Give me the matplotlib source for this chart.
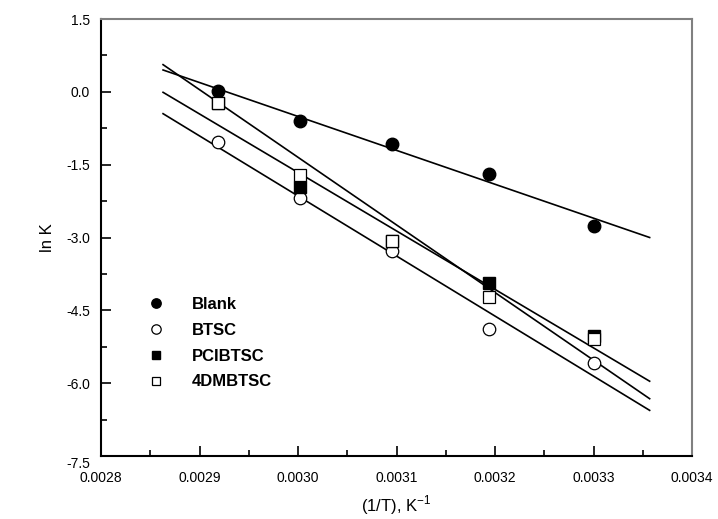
import matplotlib
matplotlib.use("Agg")
import matplotlib.pyplot as plt
import matplotlib.transforms as mtransforms
import numpy as np
from matplotlib.ticker import MultipleLocator, FormatStrFormatter

plt.rcParams['font.family'] = ['Liberation Sans', 'DejaVu Sans']

# Data (1/T in K^-1, ln K)
inv_T = [0.002919, 0.003002, 0.003095, 0.003194, 0.003300]
blank = [0.02, -0.60, -1.07, -1.69, -2.76]
btsc = [-1.04, -2.19, -3.27, -4.88, -5.58]
pcibtsc = [-0.23, -1.95, -3.08, -3.94, -5.03]
dmbtsc4 = [-0.23, -1.71, -3.08, -4.23, -5.10]

# Linear-fit lines: value of ln K at the start / end of the fitted span
fit_x = [0.002863, 0.003357]
fit_blank = [0.45, -3.00]
fit_btsc = [-0.45, -6.56]
fit_pcibtsc = [-0.01, -5.96]
fit_dmbtsc4 = [0.56, -6.32]

fig = plt.figure(figsize=(7.18, 5.19), dpi=100)
ax = fig.add_axes([101/718, 1-456/519, (692-101)/718, (456-19)/519])

series = [
    ("Blank", blank, fit_blank, dict(marker='o', mfc='black', mec='black', ms=9)),
    ("BTSC", btsc, fit_btsc, dict(marker='o', mfc='white', mec='black', ms=9, mew=0.9)),
    ("PCIBTSC", pcibtsc, fit_pcibtsc, dict(marker='s', mfc='black', mec='black', ms=8)),
    ("4DMBTSC", dmbtsc4, fit_dmbtsc4, dict(marker='s', mfc='white', mec='black', ms=8, mew=0.9)),
]

handles = []
for name, ys, fit, style in series:
    ax.plot(fit_x, fit, color='black', lw=1.2, zorder=2)
    h, = ax.plot(inv_T, ys, ls='none', zorder=3, label=name, **style)
    handles.append(h)

ax.set_xlim(0.0028, 0.0034)
ax.set_ylim(-7.5, 1.5)
ax.xaxis.set_major_locator(MultipleLocator(0.0001))
ax.xaxis.set_minor_locator(MultipleLocator(0.00005))
ax.yaxis.set_major_locator(MultipleLocator(1.5))
ax.yaxis.set_minor_locator(MultipleLocator(0.75))
ax.xaxis.set_major_formatter(FormatStrFormatter('%.4f'))
ax.yaxis.set_major_formatter(FormatStrFormatter('%.1f'))

ax.tick_params(which='both', direction='in', top=False, right=False, labelsize=10, width=1.2)
ax.tick_params(which='major', length=7)
ax.tick_params(which='minor', length=4)
ax.tick_params(axis='x', pad=11)
ax.tick_params(axis='y', pad=8)

for s in ['left', 'bottom']:
    ax.spines[s].set_linewidth(1.5)
    ax.spines[s].set_color('black')
for s in ['top', 'right']:
    ax.spines[s].set_linewidth(1.5)
    ax.spines[s].set_color('#808080')

ax.set_xlabel(r'(1/T), K$^{\mathregular{-1}}$', fontsize=12, labelpad=6)
ax.set_ylabel('ln K', fontsize=12, labelpad=8)

# Origin-style: bottom y label nudged down to avoid the x label
fig.canvas.draw()
shift = mtransforms.ScaledTranslation(0, -7/100, fig.dpi_scale_trans)
for t in ax.yaxis.get_major_ticks():
    if abs(t.get_loc() - (-7.5)) < 1e-6:
        t.label1.set_transform(t.label1.get_transform() + shift)

leg = ax.legend(handles=handles, loc='lower left', bbox_to_anchor=(0.0685, 0.137),
                frameon=False, prop={'weight': 'bold', 'size': 12},
                markerscale=0.75, handlelength=1.0, handletextpad=1.6,
                labelspacing=0.65, borderaxespad=0)

fig.savefig('out.png', dpi=100)
